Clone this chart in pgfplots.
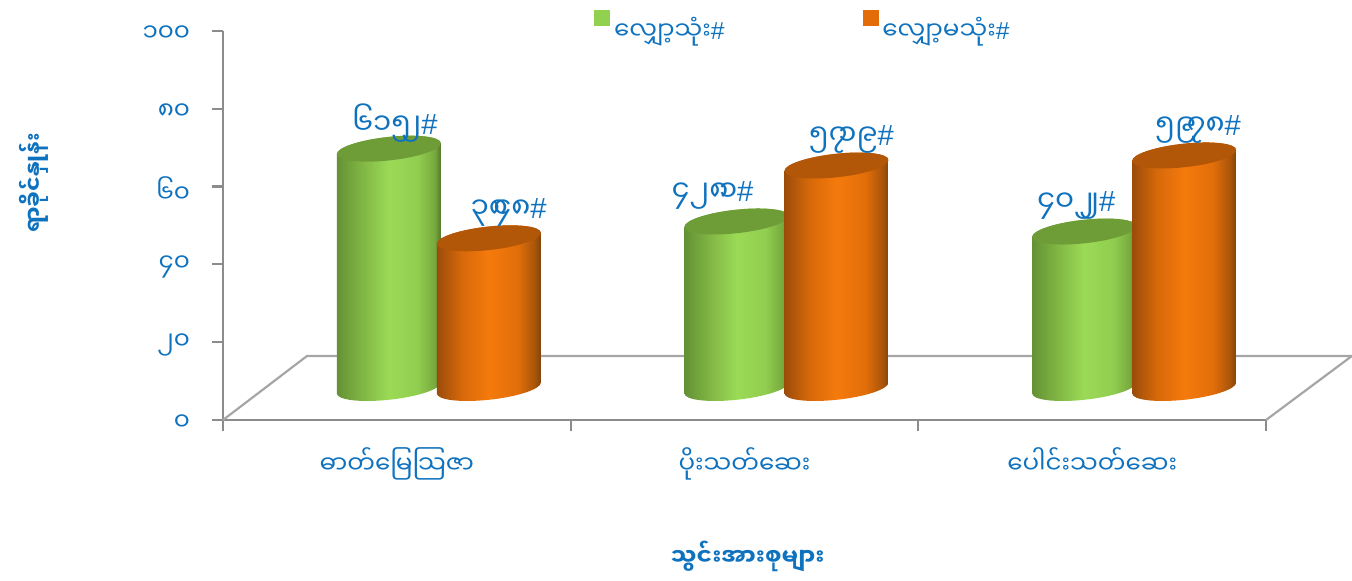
\documentclass[border=0pt]{standalone}
\usepackage{fontspec}
\usepackage{pgfplots}
\usepackage{pgfplotstable}
\pgfplotsset{compat=1.18}
\setmainfont{Noto Sans Myanmar UI}[Script=Myanmar]
\newfontfamily\latinfont{Liberation Sans}
\newcommand{\hash}{{\latinfont\#}}
\definecolor{mmblue}{RGB}{15,114,190}
\definecolor{axisgray}{RGB}{140,140,140}
\definecolor{floorgray}{RGB}{166,166,166}
\definecolor{topgreen}{RGB}{110,157,56}
\definecolor{toporange}{RGB}{178,86,7}
\definecolor{keygreen}{RGB}{146,208,80}
\definecolor{keyorange}{RGB}{227,108,9}
\definecolor{ga}{RGB}{100,145,52}
\definecolor{gb}{RGB}{128,182,68}
\definecolor{gc}{RGB}{155,218,86}
\definecolor{gd}{RGB}{145,205,80}
\definecolor{ge}{RGB}{120,170,62}
\definecolor{gf}{RGB}{85,120,45}
\definecolor{oa}{RGB}{155,76,10}
\definecolor{ob}{RGB}{215,105,10}
\definecolor{oc}{RGB}{245,122,12}
\definecolor{od}{RGB}{225,110,10}
\definecolor{oe}{RGB}{170,85,10}
\definecolor{of}{RGB}{130,68,10}
\pgfdeclarehorizontalshading{cylgreen}{100bp}{
  color(0bp)=(ga);color(25bp)=(ga);color(37bp)=(gb);color(50bp)=(gc);
  color(64bp)=(gd);color(72bp)=(ge);color(75bp)=(gf);color(100bp)=(gf)}
\pgfdeclarehorizontalshading{cylorange}{100bp}{
  color(0bp)=(oa);color(25bp)=(oa);color(37bp)=(ob);color(50bp)=(oc);
  color(64bp)=(od);color(72bp)=(oe);color(75bp)=(of);color(100bp)=(of)}
% cylinder drawn from the data point downwards, 1.945pt per unit
\newcommand{\cylinder}[3]{% xshift, shading, top colour
  \pgfscope
    \pgftransformshift{\pgfqpoint{#1}{16pt}}%
    \pgftransformcm{1}{0.104}{0}{1}{\pgfpointorigin}%
    \pgfmathsetlengthmacro{\cylh}{\ry*1.945pt}%
    \pgfscope
      \pgfpathmoveto{\pgfpoint{-26pt}{0pt}}%
      \pgfpathlineto{\pgfpoint{-26pt}{-\cylh}}%
      \pgfpatharc{180}{360}{26pt and 5.9pt}%
      \pgfpathlineto{\pgfpoint{26pt}{0pt}}%
      \pgfpatharc{0}{180}{26pt and 5.9pt}%
      \pgfpathclose
      \pgfshadepath{#2}{0}%
      \pgfusepath{discard}%
    \endpgfscope
    \pgfpathellipse{\pgfpointorigin}{\pgfpoint{26pt}{0pt}}{\pgfpoint{0pt}{5.9pt}}%
    \pgfsetfillcolor{#3}%
    \pgfusepath{fill}%
  \endpgfscope}
\pgfdeclareplotmark{cylg}{\cylinder{-4pt}{cylgreen}{topgreen}}
\pgfdeclareplotmark{cylo}{\cylinder{46pt}{cylorange}{toporange}}
\newcommand{\ov}[2]{#1\kern-.32em #2}
\newcommand{\ovv}[2]{#1\kern-.5em #2}
\pgfplotstableread{
x y dx lab
0 61.52 -1 ၆၁\ov{၅}{၂}
1 42.81 -16 ၄၂\ov{၈}{၁}
2 40.22 -8 ၄၀\ovv{၂}{၂}
}\greendata
\pgfplotstableread{
x y dx lab
0 38.48 56 ၃\ovv{၈}{၄}၈
1 57.19 53.5 ၅\ov{၇}{၁}၉
2 59.78 53 ၅\ov{၉}{၇}၈
}\orangedata
\pgfplotsset{cyl/.style={
    forget plot,scatter,only marks,
    point meta=explicit symbolic,
    visualization depends on={rawy \as \ry},
    visualization depends on={\thisrow{dx} \as \dx},
    scatter/@pre marker code/.code={\scope},
    scatter/@post marker code/.code={\endscope},
    nodes near coords={\pgfplotspointmeta\hash},
    every node near coord/.append style={font=\fontsize{14.6}{14.6}\selectfont,text=mmblue,
      anchor=center,inner sep=0pt,xshift=\dx pt,yshift=29pt},
}}
\begin{document}
\begin{tikzpicture}
\path[use as bounding box] (-111.5pt,-80.5pt) rectangle ++(676pt,290.5pt);
\begin{axis}[
    scale only axis,
    width=521.5pt,
    height=194.5pt,
    xmin=-0.5,
    xmax=2.5,
    ymin=0,
    ymax=100,
    clip=false,
    axis x line=bottom,
    axis y line=left,
    axis line style={-,draw=axisgray,line width=1.25pt},
    tick align=outside,
    major tick length=5.5pt,
    tick style={axisgray,line width=1.1pt},
    xtick={-0.5,0.5,1.5,2.5},
    x tick label as interval,
    xticklabels={ဓာတ်မြေသြဇာ,ပိုးသတ်ဆေး,ပေါင်းသတ်ဆေး},
    ytick={0,20,40,60,80,100},
    yticklabels={၀,၂၀,၄၀,၆၀,၈၀,၁၀၀},
    tick label style={font=\fontsize{12.3}{12.3}\selectfont,text=mmblue},
    yticklabel style={xshift=-7.5pt,yshift=-1.5pt},
    xticklabel style={yshift=-5pt},
    xlabel={\textbf{သွင်းအားစုများ}},
    ylabel={\textbf{ရာခိုင်နှုန်း}},
    xlabel style={font=\fontsize{11.6}{12}\selectfont,text=mmblue,at={(axis description cs:0.503,-0.35)},anchor=center},
    ylabel style={font=\fontsize{11}{12}\selectfont,text=mmblue,at={(axis description cs:-0.181,0.61)},anchor=center},
    legend columns=2,
    legend style={draw=none,fill=none,inner sep=0pt,at={(0.3557,1.055)},anchor=north west,
      font=\fontsize{12.3}{12.3}\selectfont,text=mmblue,
      /tikz/every even column/.append style={column sep=67pt}},
    ]
    % floor of the 3D box
    \addplot[forget plot,floorgray,line width=1.1pt] coordinates {(-0.5,0) (-0.2584,16.45) (2.747,16.45) (2.5,0)};
    \addplot[cyl,mark=cylg] table[x=x,y=y,meta=lab] {\greendata};
    \addplot[cyl,mark=cylo] table[x=x,y=y,meta=lab] {\orangedata};
    \addlegendimage{legend image code/.code={\fill[keygreen] (0pt,2pt) rectangle (7.5pt,9.5pt);}}
    \addlegendentry{လျှော့သုံး\hash}
    \addlegendimage{legend image code/.code={\fill[keyorange] (0pt,2pt) rectangle (7.5pt,9.5pt);}}
    \addlegendentry{လျှော့မသုံး\hash}
\end{axis}
\end{tikzpicture}
\end{document}
